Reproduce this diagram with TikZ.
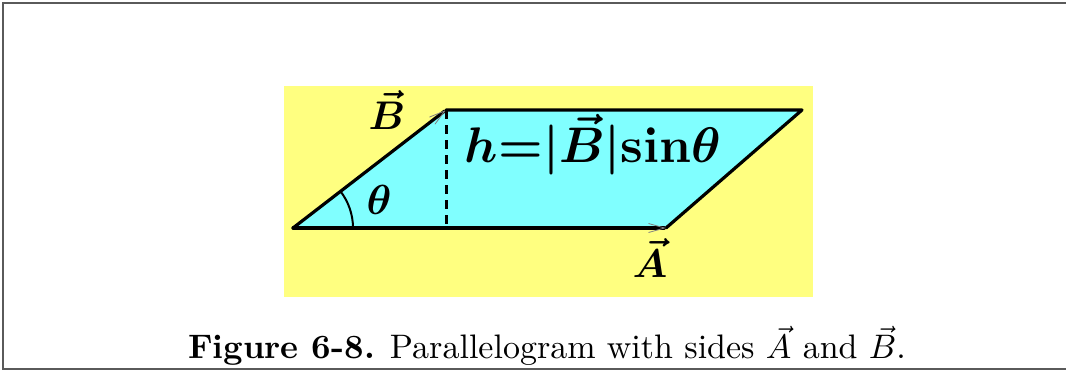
\documentclass[tikz,border=0pt]{standalone}
\usepackage{amsmath}
\usetikzlibrary{arrows.meta}
\definecolor{bgyellow}{RGB}{255,255,128}
\definecolor{pcyan}{RGB}{128,255,255}
\definecolor{framegray}{RGB}{90,90,90}
\tikzset{
  edge/.style={line width=3.2pt, line cap=round, line join=round},
  vec/.style={edge, -{Straight Barb[length=16pt,width=9pt,line width=0.8pt,color=gray]}},
  lbl/.style={inner sep=0pt, font=\normalsize, transform shape},
}
\begin{document}
\begin{tikzpicture}[x=1pt,y=-1pt]
\useasboundingbox (0,0) rectangle (1066,372);
% frame
\draw[framegray, line width=1.5pt] (1066,3) -- (3,3) -- (3,369) -- (1066,369);
% background
\fill[bgyellow] (284,86) rectangle (813,297);
% corners
\coordinate (O) at (293,228);
\coordinate (Aend) at (666,228);
\coordinate (Bend) at (446,110);
\coordinate (C) at (802,110);
\coordinate (F) at (446,228);
\fill[pcyan] (O) -- (Aend) -- (C) -- (Bend) -- cycle;
\draw[edge] (Aend) -- (C) -- (Bend);
\draw[vec] (O) -- (Aend);
\draw[vec] (O) -- (Bend);
\draw[line width=3pt, dash pattern=on 9pt off 6pt] (Bend) -- (F);
% angle arc
\draw[line width=2pt] (353,228) arc[start angle=0, end angle=-37.6, radius=60];
% labels
\node[lbl, scale=4] (lB) at (387,110) {$\boldsymbol{\vec B}$};
\node[lbl, scale=4] (lA) at (650,258) {$\boldsymbol{\vec A}$};
\node[lbl, scale=4.2] (lt) at (379,200) {$\boldsymbol{\theta}$};
\node[lbl, scale=5.0] (lh) at (593,145) {$\boldsymbol{h{=}|\vec B|}\mathbf{sin}\boldsymbol{\theta}$};
\node[lbl, scale=3.4] (cap) at (547,346) {\textbf{Figure 6-8.} Parallelogram with sides $\vec A$ and $\vec B$.};
\end{tikzpicture}
\end{document}
